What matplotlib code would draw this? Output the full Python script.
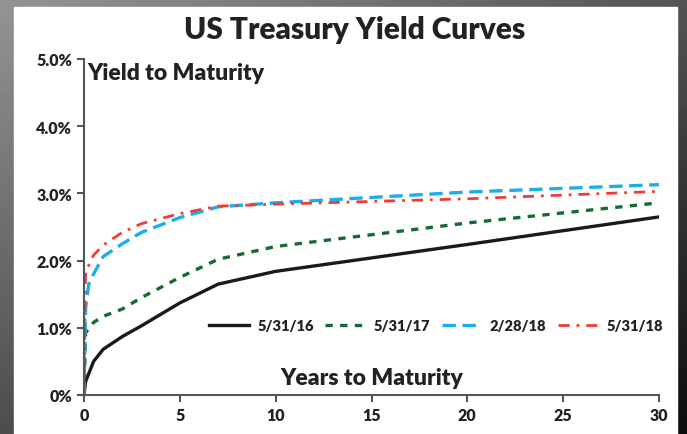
import numpy as np
import matplotlib
matplotlib.use("Agg")
import matplotlib.pyplot as plt
from matplotlib.patches import Rectangle

plt.rcParams['font.family'] = ['Lato', 'DejaVu Sans']

# maturities in years (0 = origin the curves start from)
maturity = [0, 1/12, 0.25, 0.5, 1, 2, 3, 5, 7, 10, 20, 30]

y_5_31_16 = [0, 0.20, 0.32, 0.50, 0.68, 0.87, 1.03, 1.37, 1.65, 1.84, 2.24, 2.65]
y_5_31_17 = [0, 0.93, 0.98, 1.08, 1.17, 1.28, 1.45, 1.75, 2.02, 2.21, 2.56, 2.86]
y_2_28_18 = [0, 1.30, 1.65, 1.80, 2.06, 2.25, 2.42, 2.64, 2.80, 2.86, 3.02, 3.13]
y_5_31_18 = [0, 1.85, 1.93, 2.08, 2.23, 2.42, 2.55, 2.70, 2.81, 2.84, 2.92, 3.03]

labels = ['5/31/16', '5/31/17', '2/28/18', '5/31/18']
x_ticks = [0, 5, 10, 15, 20, 25, 30]
y_ticks = [0, 1, 2, 3, 4, 5]
y_tick_labels = ['0%', '1.0%', '2.0%', '3.0%', '4.0%', '5.0%']

fig = plt.figure(figsize=(6.87, 4.35), dpi=100)

# dark photo-like background with a white panel on top
bg = fig.add_axes([0, 0, 1, 1], zorder=-10)
gx = np.linspace(0, 1, 200)
gy = np.linspace(0, 1, 120)
GX, GY = np.meshgrid(gx, gy)
grad = 0.58 - 0.28 * GY - 0.25 * GX
bg.imshow(grad, cmap='gray', vmin=0, vmax=1, aspect='auto', extent=[0, 1, 0, 1], origin='upper')
bg.add_patch(Rectangle((14/687, 0), (677-14)/687, 1 - 8/435, color='white', transform=bg.transAxes))
bg.set_xlim(0, 1)
bg.set_ylim(0, 1)
bg.axis('off')

ax = fig.add_axes([84/687, 39/435, (659-84)/687, (396-60)/435])
ax.patch.set_alpha(0)

ax.plot(maturity, y_5_31_16, color='#1a1a1a', lw=2.4, label=labels[0])
ax.plot(maturity, y_5_31_17, color='#166b34', lw=2.4, ls=(0, (2.2, 2.2)), label=labels[1])
ax.plot(maturity, y_2_28_18, color='#1aaeea', lw=2.4, ls=(0, (4, 2)), label=labels[2])
ax.plot(maturity, y_5_31_18, color='#ee3d36', lw=2.0, ls=(0, (4, 2.5, 1, 2.5)), label=labels[3])

ax.set_xlim(0, 30)
ax.set_ylim(0, 5)
ax.set_xticks(x_ticks)
ax.set_yticks(y_ticks)
ax.set_yticklabels(y_tick_labels)
for s in ['top', 'right']:
    ax.spines[s].set_visible(False)
for s in ['left', 'bottom']:
    ax.spines[s].set_color('#555555')
    ax.spines[s].set_linewidth(1.5)
ax.tick_params(colors='#555555', width=1.5, length=5, labelcolor='#222222', labelsize=11.5)
for t in ax.get_xticklabels() + ax.get_yticklabels():
    t.set_fontweight('heavy')

ax.text(0.006, 0.99, 'Yield to Maturity', transform=ax.transAxes, ha='left', va='top',
        fontsize=16.5, fontweight='heavy', color='#222222')
ax.text(0.5, 0.02, 'Years to Maturity', transform=ax.transAxes, ha='center', va='bottom',
        fontsize=16.5, fontweight='heavy', color='#222222')

leg = ax.legend(loc='center', bbox_to_anchor=(0.612, 0.208), ncol=4, frameon=False,
                handlelength=2.7, columnspacing=0.8, handletextpad=0.6, borderpad=0,
                prop={'size': 10.5, 'weight': 'heavy'})
for t in leg.get_texts():
    t.set_color('#222222')

fig.text(355/687, 1 - 30/435, 'US Treasury Yield Curves', ha='center', va='center',
         fontsize=21.5, fontweight='heavy', color='#222222')

fig.savefig('out.png', dpi=100)
